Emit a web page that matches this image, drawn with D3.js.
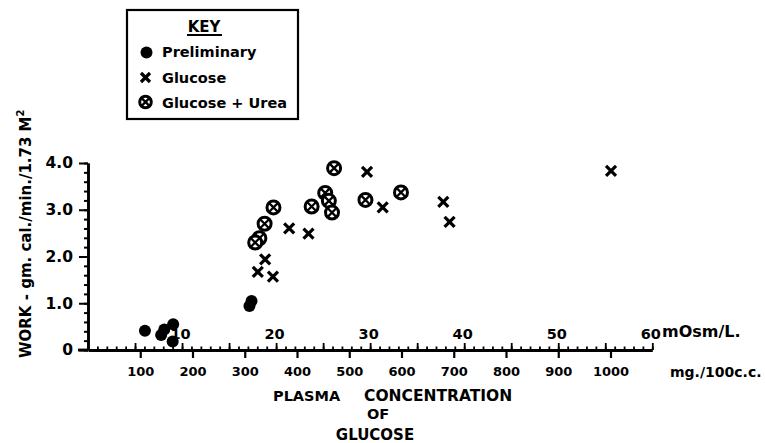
<!DOCTYPE html>
<html><head><meta charset="utf-8">
<script src="https://cdn.jsdelivr.net/npm/d3@7"></script>
<style>
body{margin:0;background:#fff;}
text{font-family:"DejaVu Sans",sans-serif;font-weight:bold;fill:#000;}
</style></head>
<body>
<svg id="c" width="765" height="443"></svg>
<script>
// ---- data ----
const preliminaryMg   = [109, 140, 146, 163, 162, 309, 313];
const preliminaryWork = [0.41, 0.32, 0.44, 0.55, 0.18, 0.94, 1.05];

const glucoseMg   = [534, 564, 385, 422, 339, 325, 354, 680, 692, 1001];
const glucoseWork = [3.81, 3.05, 2.60, 2.49, 1.94, 1.67, 1.57, 3.17, 2.74, 3.83];

const ureaMg   = [471, 454, 461, 467, 428, 355, 338, 328, 320, 531, 599];
const ureaWork = [3.89, 3.36, 3.19, 2.94, 3.07, 3.05, 2.70, 2.39, 2.30, 3.21, 3.37];

const mgTicks   = [100, 200, 300, 400, 500, 600, 700, 800, 900, 1000];
const mOsmTicks = [10, 20, 30, 40, 50, 60];
const workTicks = [0, 1, 2, 3, 4];
const workTickLabels = ["0", "1.0", "2.0", "3.0", "4.0"];
const keyLabels = ["Preliminary", "Glucose", "Glucose + Urea"];
const mgPerMOsm = 18;

// ---- layout ----
const svg = d3.select("#c");
const x = d3.scaleLinear().domain([0, 1000]).range([88, 610.5]);
const y = d3.scaleLinear().domain([0, 4]).range([350, 163]);
const xo = d3.scaleLinear().domain([0, 60]).range([x(0), x(60 * mgPerMOsm)]);

function fontify(sel, size) {
  sel.style("font-size", size + "px").style("font-family", "'DejaVu Sans', sans-serif")
     .style("font-weight", "bold").style("fill", "#000");
}

// y axis
const gy = svg.append("g").attr("transform", `translate(${x(0)},0)`);
gy.call(d3.axisLeft(y).tickValues(d3.range(0, 4.01, 0.2)).tickSize(4).tickSizeOuter(0).tickFormat(""));
gy.call(g => g.append("g").call(d3.axisLeft(y).tickValues(workTicks).tickSize(9).tickSizeOuter(0)
    .tickFormat((d, i) => workTickLabels[i]).tickPadding(6)));
gy.selectAll("path.domain").attr("stroke", "#000").attr("stroke-width", 2.6);
gy.selectAll(".tick line").attr("stroke", "#000").attr("stroke-width", 2);
fontify(gy.selectAll("text"), 15.5);

// x axis (mg below)
const gx = svg.append("g").attr("transform", `translate(0,${y(0)})`);
gx.call(d3.axisBottom(x).tickValues(mgTicks).tickSize(8).tickSizeOuter(0).tickPadding(9).tickFormat(d3.format("d")));
gx.select("path.domain").remove();
gx.selectAll(".tick line").attr("stroke", "#000").attr("stroke-width", 2.2);
fontify(gx.selectAll("text"), 13);

// mOsm axis above
const go = svg.append("g").attr("transform", `translate(0,${y(0)})`);
go.call(d3.axisTop(xo).tickValues(d3.range(1, 61, 1)).tickSize(3.5).tickSizeOuter(0).tickFormat(""));
go.append("g").call(d3.axisTop(xo).tickValues(d3.range(5, 61, 5)).tickSize(7).tickSizeOuter(0).tickFormat(""))
  .select("path.domain").remove();
go.append("g").call(d3.axisTop(xo).tickValues(mOsmTicks).tickSize(0).tickPadding(11))
  .call(g => g.select("path.domain").remove());
go.selectAll("path.domain").attr("stroke", "#000").attr("stroke-width", 2.8);
go.selectAll(".tick line").attr("stroke", "#000").attr("stroke-width", 1.8);
fontify(go.selectAll("text"), 14.5);
go.selectAll("text").attr("dx", -2);
// left stub of the baseline
go.append("line").attr("x1", x(0) - 10).attr("x2", x(0)).attr("y1", 0).attr("y2", 0)
  .attr("stroke", "#000").attr("stroke-width", 2.8);

// axis unit labels
fontify(svg.append("text").attr("x", 662).attr("y", 337).text("mOsm/L."), 16);
fontify(svg.append("text").attr("x", 670).attr("y", 377).text("mg./100c.c."), 14);

// x title
fontify(svg.append("text").attr("x", 273).attr("y", 401).text("PLASMA"), 14.5);
fontify(svg.append("text").attr("x", 364).attr("y", 401).text("CONCENTRATION"), 15.5);
fontify(svg.append("text").attr("x", 378).attr("y", 419).attr("text-anchor", "middle").text("OF"), 14.5);
fontify(svg.append("text").attr("x", 375).attr("y", 439.5).attr("text-anchor", "middle").text("GLUCOSE"), 15);

// y title
const yt = svg.append("text").attr("transform", "translate(31,358) rotate(-90)");
fontify(yt, 15);
yt.append("tspan").text("WORK - gm. cal./min./1.73 M");
yt.append("tspan").attr("dy", -7).style("font-size", "10px").text("2");

// ---- markers ----
function dot(g, cx, cy, r) {
  g.append("circle").attr("cx", cx).attr("cy", cy).attr("r", r).attr("fill", "#000");
}
function cross(g, cx, cy, s) {
  g.append("path").attr("d", `M${cx - s},${cy - s}L${cx + s},${cy + s}M${cx - s},${cy + s}L${cx + s},${cy - s}`)
    .attr("stroke", "#000").attr("stroke-width", 3.2).attr("fill", "none");
}
function otimes(g, cx, cy, r) {
  g.append("circle").attr("cx", cx).attr("cy", cy).attr("r", r).attr("fill", "#fff")
    .attr("stroke", "#000").attr("stroke-width", 3);
  const s = r * 0.62;
  g.append("path").attr("d", `M${cx - s},${cy - s}L${cx + s},${cy + s}M${cx - s},${cy + s}L${cx + s},${cy - s}`)
    .attr("stroke", "#000").attr("stroke-width", 2.3).attr("fill", "none");
}

const pts = svg.append("g");
preliminaryMg.forEach((m, i) => dot(pts, x(m), y(preliminaryWork[i]), 6));
glucoseMg.forEach((m, i) => cross(pts, x(m), y(glucoseWork[i]), 5));
ureaMg.forEach((m, i) => otimes(pts, x(m), y(ureaWork[i]), 6.5));

// ---- key ----
const key = svg.append("g");
key.append("rect").attr("x", 127).attr("y", 10).attr("width", 171).attr("height", 109)
  .attr("fill", "#fff").attr("stroke", "#000").attr("stroke-width", 2.2);
fontify(key.append("text").attr("x", 204).attr("y", 32).attr("text-anchor", "middle").text("KEY"), 15);
key.append("line").attr("x1", 187).attr("x2", 222).attr("y1", 35).attr("y2", 35).attr("stroke", "#000").attr("stroke-width", 2);
const keyY = [57, 83, 108];
keyLabels.forEach((t, i) => {
  fontify(key.append("text").attr("x", 162).attr("y", keyY[i]).text(t), 14.5);
});
dot(key, 146.5, 52.5, 6);
cross(key, 145.5, 77.5, 4.5);
otimes(key, 145.5, 102, 5.8);
</script>
</body></html>
